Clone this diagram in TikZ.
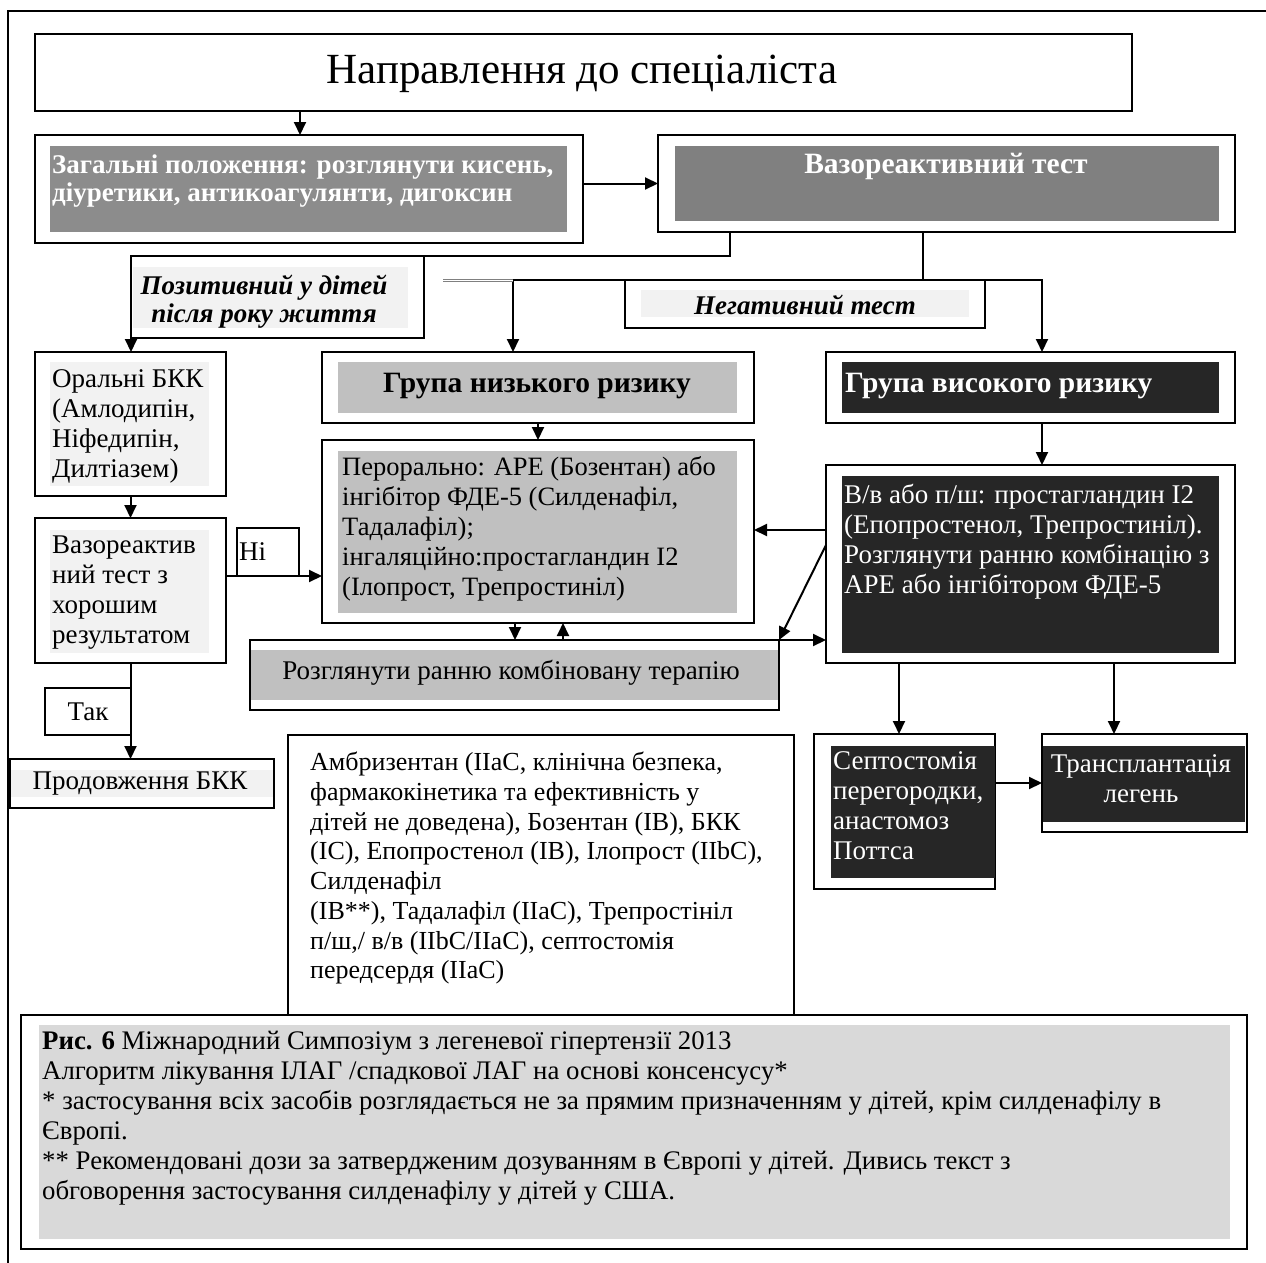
\documentclass[tikz,border=0pt]{standalone}
\usepackage{fontspec}
\setmainfont{Liberation Serif}
\usetikzlibrary{arrows.meta,fit}
\definecolor{gengray}{RGB}{140,140,140}
\definecolor{vasogray}{RGB}{128,128,128}
\definecolor{midgray}{RGB}{192,192,192}
\definecolor{lightpanel}{RGB}{242,242,242}
\definecolor{darkpanel}{RGB}{38,38,38}
\definecolor{capgray}{RGB}{217,217,217}

\begin{document}
\begin{tikzpicture}[x=1pt,y=1pt,yscale=-1,xscale=1,
  frame/.style={draw, line width=2pt, inner sep=0pt, outer sep=0pt},
  arr/.style={line width=2pt, -{Triangle[length=13pt,width=12pt]}},
  body/.style={font=\fontsize{27}{30}\selectfont, inner sep=0pt, align=left},
  boldw/.style={font=\bfseries\fontsize{27}{28}\selectfont, text=white, inner sep=0pt, align=left},
  boldit/.style={font=\bfseries\itshape\fontsize{27}{28}\selectfont, inner sep=0pt, align=center},
  boldbig/.style={font=\bfseries\fontsize{29.5}{30}\selectfont, inner sep=0pt}]
\useasboundingbox (0,0) rectangle (1266,1263);

%Straight Lines: outer frame
\draw[line width=2.6pt] (8,1263) -- (8,11) -- (1266,11);

%Shape: Rectangle
\node[frame, fit={(35,34) (1132,111)}] (ref) {};
% Text Node
\node[font=\fontsize{43}{46}\selectfont] (reftxt) at (582,74) {Направлення до спеціаліста};

%Shape: Rectangle
\node[frame, fit={(35,135) (583,243)}] (gen) {};
\fill[gengray] (50,146) rectangle (567,232);
% Text Node
\node[boldw, anchor=north west] (gentxt) at (52,155) {Загальні положення: розглянути кисень,\\діуретики, антикоагулянти, дигоксин};

%Shape: Rectangle
\node[frame, fit={(658,135) (1235,232)}] (vaso) {};
\fill[vasogray] (675,146) rectangle (1219,221);
% Text Node
\node[boldw, font=\bfseries\fontsize{29.5}{30}\selectfont] (vasotxt) at (946,166) {Вазореактивний тест};

%Shape: Rectangle
\node[frame, fit={(131,256) (424,338)}] (pos) {};
\fill[lightpanel] (133,267) rectangle (408,328);
% Text Node
\node[boldit] (postxt) at (264,302) {Позитивний у дітей\\після року життя};

%Shape: Rectangle
\node[frame, fit={(625,280) (985,328)}] (neg) {};
\fill[lightpanel] (641,290) rectangle (969,317);
% Text Node
\node[boldit] (negtxt) at (805,305) {Негативний тест};

%Shape: Rectangle
\node[frame, fit={(35,352) (226,496)}] (oral) {};
\fill[lightpanel] (50,362) rectangle (209,486);
% Text Node
\node[body, anchor=north west] (oraltxt) at (52,369) {Оральні БКК\\(Амлодипін,\\Ніфедипін,\\Дилтіазем)};

%Shape: Rectangle
\node[frame, fit={(35,518) (226,663)}] (vtest) {};
\fill[lightpanel] (50,530) rectangle (209,653);
% Text Node
\node[body, anchor=north west] (vtesttxt) at (52,536) {Вазореактив\\ний тест з\\хорошим\\результатом};

%Shape: Rectangle
\node[frame, fit={(237,528) (299,576)}] (no) {};
% Text Node
\node[body, anchor=west] (notxt) at (239,552) {Ні};

%Shape: Rectangle
\node[frame, fit={(45,688) (131,735)}] (yes) {};
% Text Node
\node[body] (yestxt) at (88,712) {Так};

%Shape: Rectangle
\node[frame, fit={(10,759) (274,808)}] (cont) {};
\fill[lightpanel] (11,770) rectangle (273,797);
% Text Node
\node[body] (conttxt) at (140,784) {Продовження БКК};

%Shape: Rectangle
\node[frame, fit={(322,352) (754,423)}] (low) {};
\fill[midgray] (338,362) rectangle (737,413);
% Text Node
\node[boldbig] (lowtxt) at (537,386) {Група низького ризику};

%Shape: Rectangle
\node[frame, fit={(322,440) (754,623)}] (per) {};
\fill[midgray] (338,451) rectangle (737,613);
% Text Node
\node[body, font=\fontsize{26.5}{30}\selectfont, anchor=north west] (pertxt) at (342,456) {Перорально: АРЕ (Бозентан) або\\інгібітор ФДЕ-5 (Силденафіл,\\Тадалафіл);\\інгаляційно:простагландин І2\\(Ілопрост, Трепростиніл)};

%Shape: Rectangle
\node[frame, fit={(250,640) (779,710)}] (comb) {};
\fill[midgray] (251,650) rectangle (778,700);
% Text Node
\node[body] (combtxt) at (511,673) {Розглянути ранню комбіновану терапію};

%Shape: Rectangle
\node[frame, fit={(826,352) (1235,423)}] (high) {};
\fill[darkpanel] (842,362) rectangle (1219,413);
% Text Node
\node[boldbig, text=white, anchor=west] (hightxt) at (845,386) {Група високого ризику};

%Shape: Rectangle
\node[frame, fit={(826,465) (1235,663)}] (iv) {};
\fill[darkpanel] (842,476) rectangle (1219,653);
% Text Node
\node[body, text=white, anchor=north west] (ivtxt) at (844,484) {В/в або п/ш: простагландин І2\\(Епопростенол, Трепростиніл).\\Розглянути ранню комбінацію з\\АРЕ або інгібітором ФДЕ-5};

%Shape: Rectangle
\node[frame, fit={(814,734) (995,889)}] (sept) {};
\fill[darkpanel] (831,746) rectangle (995,878);
% Text Node
\node[body, text=white, anchor=north west] (supttxt) at (833,751) {Септостомія\\перегородки,\\анастомоз\\Поттса};

%Shape: Rectangle
\node[frame, fit={(1042,734) (1247,832)}] (tx) {};
\fill[darkpanel] (1043,746) rectangle (1245,822);
% Text Node
\node[body, text=white, align=center] (txtxt) at (1141,779) {Трансплантація\\легень};

%Shape: Rectangle
\node[frame, fit={(288,735) (794,1015)}] (drugs) {};
% Text Node
\node[body, font=\fontsize{26}{29.7}\selectfont, anchor=north west] (drugstxt) at (310,752) {Амбризентан (IIaC, клінічна безпека,\\фармакокінетика та ефективність у\\дітей не доведена), Бозентан (IB), БКК\\(IC), Епопростенол (IB), Ілопрост (IIbC),\\Силденафіл\\(IB**), Тадалафіл (IIaC), Трепростініл\\п/ш,/ в/в (IIbC/IIaC), септостомія\\передсердя (IIaC)};

%Shape: Rectangle
\node[frame, fit={(21,1015) (1247,1249)}] (cap) {};
\fill[capgray] (39,1025) rectangle (1230,1239);
% Text Node
\node[body, font=\fontsize{26.8}{30}\selectfont, anchor=north west] (captxt) at (42,1031) {\textbf{Рис. 6} Міжнародний Симпозіум з легеневої гіпертензії 2013\\Алгоритм лікування ІЛАГ /спадкової ЛАГ на основі консенсусу*\\* застосування всіх засобів розглядається не за прямим призначенням у дітей, крім силденафілу в\\Європі.\\** Рекомендовані дози за затвердженим дозуванням в Європі у дітей. Дивись текст з\\обговорення застосування силденафілу у дітей у США.};

% connector ends (yshift runs down here, as yscale=-1)
\coordinate (refout) at ([xshift=-9pt]gen.north);
\coordinate (vasoleft) at ([xshift=-216.5pt]vaso.south);
\coordinate (vasomid) at ([xshift=-23.5pt]vaso.south);
\coordinate (lowin) at ([xshift=-25pt]low.north);
\coordinate (highin) at ([xshift=11.5pt]high.north);
\coordinate (highout) at ([xshift=11.5pt]high.south);
\coordinate (vtestout) at ([yshift=-14.5pt]vtest.east);
\coordinate (perdown) at ([xshift=-23pt]per.south);
\coordinate (perup) at ([xshift=25pt]per.south);
\coordinate (ivleft) at ([yshift=-34pt]iv.west);
\coordinate (ivdiag) at ([yshift=-19pt]iv.west);
\coordinate (ivsept) at ([xshift=-131.5pt]iv.south);
\coordinate (ivtx) at ([xshift=83.5pt]iv.south);
\coordinate (stub) at (443,280);

%Straight Lines
\draw[arr] (refout |- ref.south) -- (refout);
\draw[arr] (gen.east |- vaso.west) -- (vaso.west);
\draw[line width=2pt] (vasoleft) |- (pos.north east);
\draw[arr] (pos.south west) -- (pos.south west |- oral.north);
\draw[line width=2pt] (vasomid) -- (vasomid |- neg.north);
\draw[arr] (neg.north west) -| (lowin);
\draw[arr] (neg.north east) -| (highin);
\draw[gray, line width=3pt] (stub) -- (stub -| lowin);
\draw[white, line width=1pt] (stub) -- (stub -| lowin);
\draw[arr] (oral.south) -- (vtest.north);
\draw[arr] (vtestout) -- (vtestout -| per.west);
\draw[arr] (vtest.south) -- (vtest.south |- cont.north);
\draw[arr] (low.south) -- (per.north);
\draw[arr] (perdown) -- (perdown |- comb.north);
\draw[arr] (perup |- comb.north) -- (perup);
\draw[arr] (highout) -- (highout |- iv.north);
\draw[arr] (ivleft) -- (ivleft -| per.east);
\draw[arr] (ivdiag) -- (comb.north east);
\draw[arr] (comb.north east) -- (comb.north east -| iv.west);
\draw[arr] (ivsept) -- (ivsept |- sept.north);
\draw[arr] (ivtx) -- (ivtx |- tx.north);
\draw[arr] (tx.west -| sept.east) -- (tx.west);

\end{tikzpicture}
\end{document}
